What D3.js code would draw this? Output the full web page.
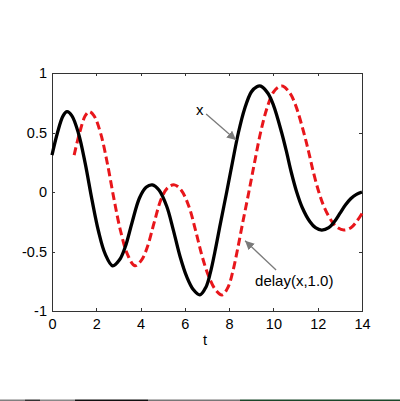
<!DOCTYPE html>
<html>
<head>
<meta charset="utf-8">
<title>delay(x,1.0)</title>
<script src="https://d3js.org/d3.v7.min.js"></script>
<style>
body { margin: 0; background: #fff; }
svg text { font-family: "Liberation Sans", Arial, sans-serif; fill: #000; }
.box { fill: none; stroke: #333; stroke-width: 1; shape-rendering: crispEdges; }
.tick line { stroke: #333; shape-rendering: crispEdges; }
.domain { display: none; }
</style>
</head>
<body>
<svg width="400" height="401"></svg>
<script>
// signal x(t)
var xT = [0, 0.25, 0.5, 0.68, 0.9, 1.2, 1.5, 1.8, 2.1, 2.4, 2.74, 3.05, 3.31, 3.61, 3.95, 4.25, 4.53, 4.83,
  5.18, 5.48, 5.78, 6.08, 6.38, 6.68, 6.95, 7.15, 7.36, 7.6, 7.89, 8.15, 8.42, 8.7, 9.0, 9.25, 9.43, 9.75,
  10.0, 10.37, 10.6, 10.8, 11.05, 11.3, 11.65, 11.9, 12.18, 12.5, 12.75, 13.0, 13.25, 13.5, 13.75, 14.0];
var xV = [0.31, 0.5, 0.64, 0.675, 0.64, 0.49, 0.24, -0.06, -0.33, -0.52, -0.62, -0.57, -0.46, -0.26, -0.05, 0.04, 0.06, 0.017,
  -0.12, -0.32, -0.54, -0.71, -0.82, -0.865, -0.8, -0.68, -0.5, -0.27, 0.0, 0.25, 0.5, 0.7, 0.84, 0.885, 0.89, 0.83,
  0.73, 0.5, 0.33, 0.17, 0.0, -0.13, -0.25, -0.3, -0.32, -0.3, -0.25, -0.18, -0.11, -0.055, -0.02, 0.0];

// delay(x,1.0)
var delayT = [1.0, 1.25, 1.5, 1.68, 1.9, 2.2, 2.5, 2.8, 3.1, 3.4, 3.74, 4.05, 4.31, 4.61, 4.95, 5.25, 5.53, 5.83,
  6.18, 6.48, 6.78, 7.08, 7.38, 7.68, 7.95, 8.15, 8.36, 8.6, 8.89, 9.15, 9.42, 9.7, 10.0, 10.25, 10.43, 10.75,
  11.0, 11.37, 11.6, 11.8, 12.05, 12.3, 12.65, 12.9, 13.18, 13.5, 13.75, 14.0];
var delayV = [0.31, 0.5, 0.64, 0.675, 0.64, 0.49, 0.24, -0.06, -0.33, -0.52, -0.62, -0.57, -0.46, -0.26, -0.05, 0.04, 0.06, 0.017,
  -0.12, -0.32, -0.54, -0.71, -0.82, -0.865, -0.8, -0.68, -0.5, -0.27, 0.0, 0.25, 0.5, 0.7, 0.84, 0.885, 0.89, 0.83,
  0.73, 0.5, 0.33, 0.17, 0.0, -0.13, -0.25, -0.3, -0.32, -0.3, -0.25, -0.18];

var xTicks = [0, 2, 4, 6, 8, 10, 12, 14];
var yTicks = [-1, -0.5, 0, 0.5, 1];

var svg = d3.select("svg"),
    margin = {top: 73, right: 38, bottom: 90, left: 52},
    width = +svg.attr("width") - margin.left - margin.right,
    height = +svg.attr("height") - margin.top - margin.bottom,
    g = svg.append("g").attr("transform", "translate(" + margin.left + "," + margin.top + ")");

svg.insert("rect", ":first-child").attr("width", 400).attr("height", 401).attr("fill", "#fff");

var x = d3.scaleLinear().domain([0, 14]).range([0, width]);
var y = d3.scaleLinear().domain([-1, 1]).range([height, 0]);

// bottom + left axes with labels, ticks pointing in
g.append("g")
    .attr("transform", "translate(0," + height + ")")
    .call(d3.axisBottom(x).tickValues(xTicks).tickSize(-3).tickPadding(8).tickFormat(d3.format("d")))
    .call(function(a) { a.selectAll("text").style("font-size", "14.5px"); });

g.append("g")
    .call(d3.axisLeft(y).tickValues(yTicks).tickSize(-3).tickPadding(5).tickFormat(function(d) { return d3.format("")(d).replace("\u2212", "-"); }))
    .call(function(a) { a.selectAll("text").style("font-size", "14.5px"); });

// top + right ticks, no labels
g.append("g")
    .call(d3.axisTop(x).tickValues(xTicks).tickSize(-3).tickFormat(""));
g.append("g")
    .attr("transform", "translate(" + width + ",0)")
    .call(d3.axisRight(y).tickValues(yTicks).tickSize(-3).tickFormat(""));

g.append("rect").attr("class", "box").attr("x", 0.5).attr("y", 0.5).attr("width", width).attr("height", height);

var line = d3.line()
    .x(function(d) { return x(d[0]); })
    .y(function(d) { return y(d[1]); })
    .curve(d3.curveCatmullRom);

g.append("path")
    .datum(d3.zip(delayT, delayV))
    .attr("fill", "none")
    .attr("stroke", "#e8161b")
    .attr("stroke-width", 3)
    .attr("stroke-dasharray", "8,4")
    .attr("d", line);

g.append("path")
    .datum(d3.zip(xT, xV))
    .attr("fill", "none")
    .attr("stroke", "#000")
    .attr("stroke-width", 3.3)
    .attr("stroke-linejoin", "round")
    .attr("d", line);

// annotations
svg.append("defs").append("marker")
    .attr("id", "head")
    .attr("viewBox", "0 0 10 10")
    .attr("refX", 10).attr("refY", 5)
    .attr("markerWidth", 9).attr("markerHeight", 9)
    .attr("markerUnits", "userSpaceOnUse")
    .attr("orient", "auto")
  .append("path")
    .attr("d", "M0,0L10,5L0,10z")
    .attr("fill", "#7a7a7a");

function arrow(t0, v0, t1, v1) {
  g.append("line")
      .attr("x1", x(t0)).attr("y1", y(v0))
      .attr("x2", x(t1)).attr("y2", y(v1))
      .attr("stroke", "#7a7a7a")
      .attr("stroke-width", 1.3)
      .attr("marker-end", "url(#head)");
}

arrow(6.96, 0.655, 8.31, 0.437);
arrow(10.12, -0.655, 8.72, -0.41);

g.append("text")
    .attr("x", x(6.67)).attr("y", y(0.645))
    .attr("text-anchor", "middle")
    .style("font-size", "15px")
    .text("x");

g.append("text")
    .attr("x", x(9.17)).attr("y", y(-0.79))
    .style("font-size", "15px")
    .text("delay(x,1.0)");

// x label
g.append("text")
    .attr("x", width / 2 - 2).attr("y", height + 34)
    .attr("text-anchor", "middle")
    .style("font-size", "14.5px")
    .text("t");

// strip along the bottom edge of the picture
var strip = [[0, 25, "#808080"], [25, 40, "#333"], [40, 75, "#888"], [75, 148, "#111"], [148, 240, "#777"], [240, 400, "#1a472a"]];
svg.selectAll(".strip").data(strip).enter().append("rect")
    .attr("class", "strip")
    .attr("x", function(d) { return d[0]; })
    .attr("width", function(d) { return d[1] - d[0]; })
    .attr("y", 399.5).attr("height", 1.5)
    .attr("fill", function(d) { return d[2]; });
</script>
</body>
</html>
